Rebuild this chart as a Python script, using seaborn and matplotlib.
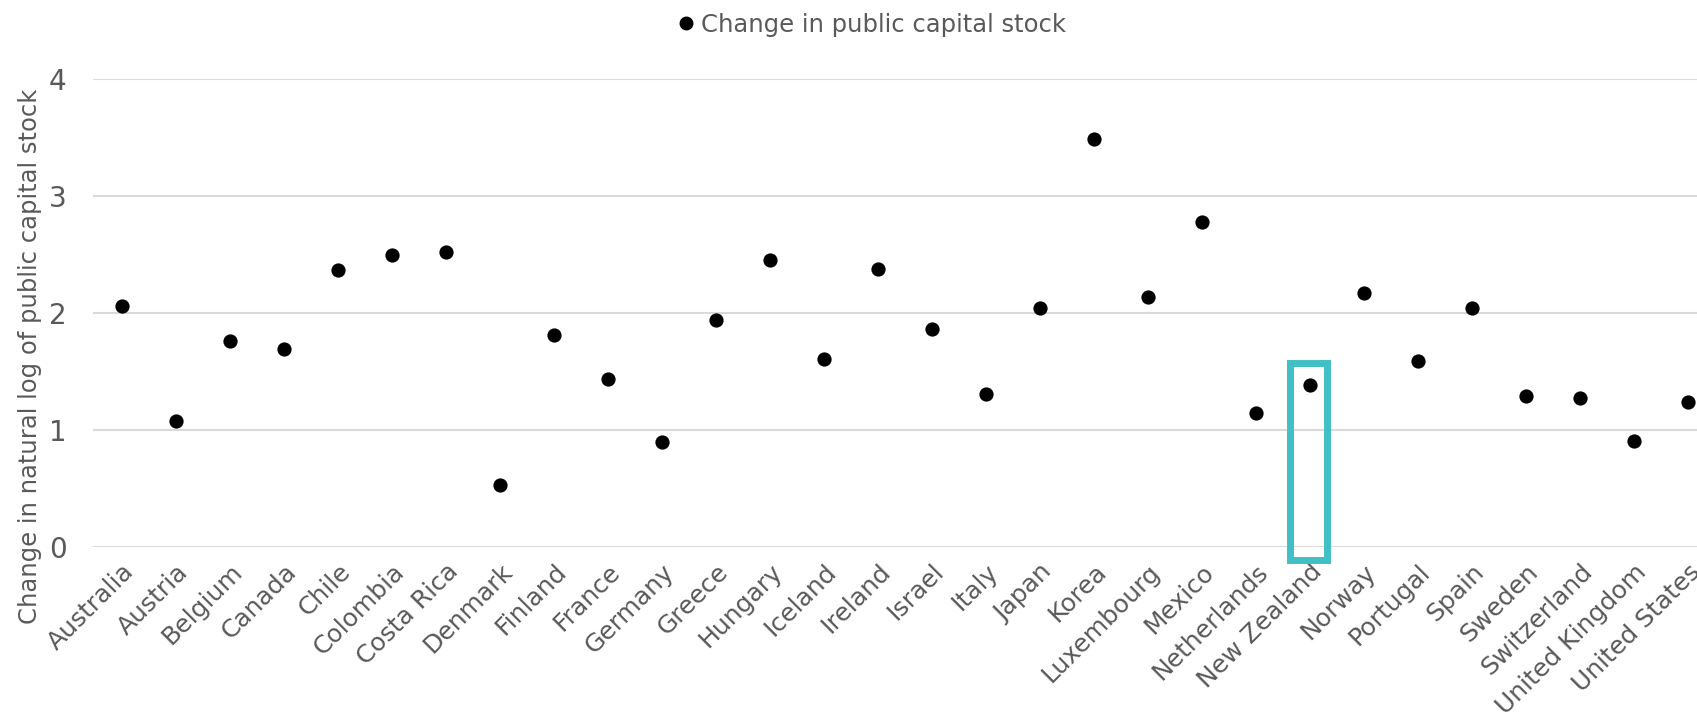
import matplotlib
matplotlib.use("Agg")
import matplotlib.pyplot as plt
import matplotlib.patches as patches
import seaborn as sns
import numpy as np

countries = ["Australia", "Austria", "Belgium", "Canada", "Chile", "Colombia",
             "Costa Rica", "Denmark", "Finland", "France", "Germany", "Greece",
             "Hungary", "Iceland", "Ireland", "Israel", "Italy", "Japan", "Korea",
             "Luxembourg", "Mexico", "Netherlands", "New Zealand", "Norway",
             "Portugal", "Spain", "Sweden", "Switzerland", "United Kingdom",
             "United States"]
capital_change = [2.06, 1.08, 1.76, 1.69, 2.37, 2.50, 2.525, 0.53, 1.81, 1.435,
                  0.896, 1.94, 2.45, 1.61, 2.38, 1.865, 1.305, 2.04, 3.49, 2.14,
                  2.78, 1.146, 1.384, 2.17, 1.587, 2.04, 1.293, 1.274, 0.909, 1.239]
y_ticks = [0, 1, 2, 3, 4]
highlight = "New Zealand"

text_grey = "#595959"
grid_grey = "#D9D9D9"
teal = "#40BFC4"

sns.set_style("white")
plt.rcParams["font.family"] = ["DejaVu Sans"]

fig = plt.figure(figsize=(16.97, 7.21), dpi=100)
# axes: left at 93px, top at 79px, bottom at 547px, right at image edge
ax = fig.add_axes([93 / 1697, 1 - 547 / 721, 1 - 93 / 1697, (547 - 79) / 721])

x = np.arange(len(countries))
sns.scatterplot(x=x, y=capital_change, color="black", s=105, linewidth=0,
                ax=ax, zorder=3, legend=False)

ax.set_ylim(0, 4)
ax.set_xlim(-0.54, 29.17)
ax.set_yticks(y_ticks)
ax.set_yticklabels([str(t) for t in y_ticks])
ax.yaxis.grid(True, color=grid_grey, linewidth=1.5)
ax.set_axisbelow(True)
for s in ax.spines.values():
    s.set_visible(False)

ax.set_xticks(x)
ax.set_xticklabels(countries, rotation=45, ha="right", rotation_mode="anchor",
                   fontsize=18, color=text_grey)
ax.tick_params(axis="x", length=0, pad=9)
ax.tick_params(axis="y", length=0, pad=19, labelsize=20, labelcolor=text_grey)

# highlight box around New Zealand
i = countries.index(highlight)
rect = patches.Rectangle((i - 0.37, -0.11), 0.68, 1.68, fill=False,
                         edgecolor=teal, linewidth=5, clip_on=False, zorder=4)
ax.add_patch(rect)

fig.text(30 / 1697, 1 - 356 / 721, "Change in natural log of public capital stock",
         rotation=90, ha="center", va="center", fontsize=17.5, color=text_grey)

handle = plt.Line2D([], [], marker="o", color="black", linestyle="none",
                    markersize=9)
fig.legend([handle], ["Change in public capital stock"], loc="center",
           bbox_to_anchor=(870 / 1697, 1 - 25 / 721), frameon=False,
           fontsize=17.5, labelcolor=text_grey, handletextpad=0.1,
           handlelength=1.0)

fig.savefig("out.png", dpi=100)
